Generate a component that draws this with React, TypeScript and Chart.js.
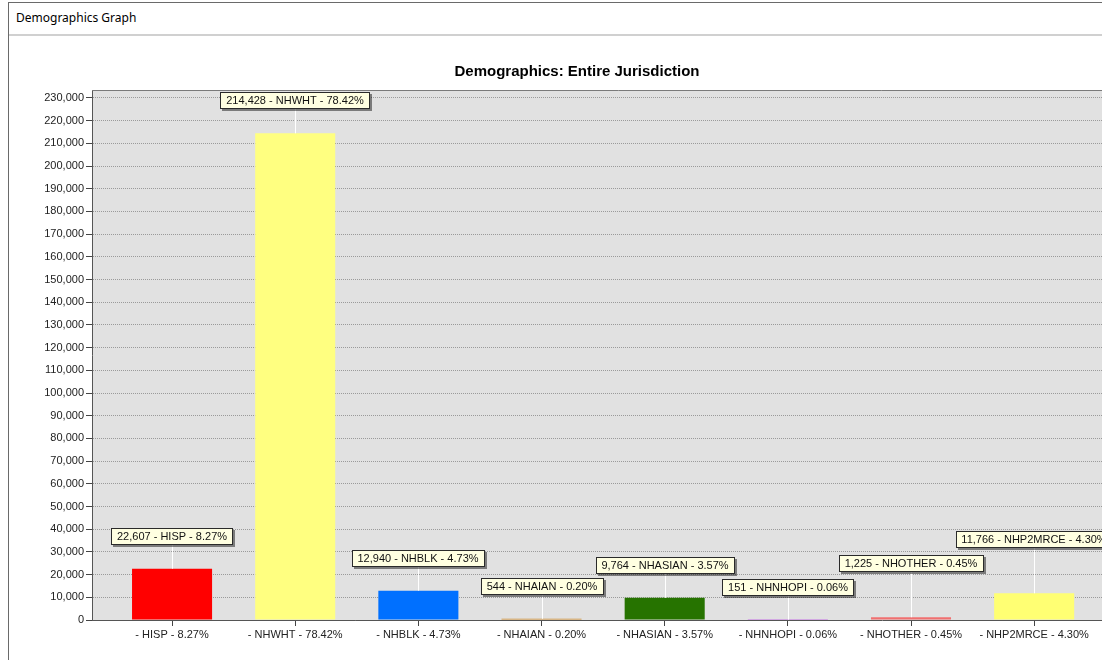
import React, { useEffect, useRef } from 'react';
import { Chart, registerables } from 'chart.js';

Chart.register(...registerables);

const windowTitle = 'Demographics Graph';
const chartTitle = 'Demographics: Entire Jurisdiction';
const categories = ['HISP', 'NHWHT', 'NHBLK', 'NHAIAN', 'NHASIAN', 'NHNHOPI', 'NHOTHER', 'NHP2MRCE'];
const populations = [22607, 214428, 12940, 544, 9764, 151, 1225, 11766];
const percentLabels = ['8.27%', '78.42%', '4.73%', '0.20%', '3.57%', '0.06%', '0.45%', '4.30%'];
const barColors = ['#ff0000', '#ffff80', '#0070ff', '#d08a2a', '#267300', '#a900e6', '#f07070', '#ffff73'];
const yTickStep = 10000;
const yAxisMax = 233500;
const xAxisMin = -0.65;
const xAxisMax = 7.9;

const FONT = '"Liberation Sans", Arial, sans-serif';

const fmt = (v: number) => Number(v).toLocaleString('en-US');

const plotFrame = {
  id: 'plotFrame',
  beforeDraw(chart: any) {
    const { ctx, chartArea: a } = chart;
    ctx.save();
    ctx.fillStyle = '#e1e1e1';
    ctx.fillRect(a.left, a.top, a.right - a.left, a.bottom - a.top);
    ctx.restore();
  },
  afterDraw(chart: any) {
    const { ctx, chartArea: a } = chart;
    ctx.save();
    ctx.strokeStyle = '#7a7a7a';
    ctx.lineWidth = 1;
    ctx.beginPath();
    ctx.moveTo(a.left, Math.round(a.top) + 0.5);
    ctx.lineTo(a.right, Math.round(a.top) + 0.5);
    ctx.stroke();
    ctx.restore();
  },
};

const calloutLabels = {
  id: 'calloutLabels',
  afterDatasetsDraw(chart: any) {
    const ctx = chart.ctx;
    const meta = chart.getDatasetMeta(0);
    ctx.save();
    ctx.font = `11px ${FONT}`;
    const boxes: any[] = [];
    meta.data.forEach((el: any, i: number) => {
      const text = `${fmt(populations[i])} - ${categories[i]} - ${percentLabels[i]}`;
      const w = Math.round(ctx.measureText(text).width) + 12;
      const h = 17;
      const cx = Math.round(el.x);
      const left = Math.round(cx - w / 2);
      let bottom = Math.round(el.y) - 24;
      let moved = true;
      let guard = 0;
      while (moved && guard < 20) {
        moved = false;
        guard++;
        for (const p of boxes) {
          if (left < p.right && left + w > p.left && bottom > p.top - 2 && bottom - h < p.bottom + 2) {
            bottom = p.top - 7;
            moved = true;
          }
        }
      }
      boxes.push({ left, right: left + w, top: bottom - h, bottom, cx, barTop: el.y, text, w, h });
    });
    ctx.strokeStyle = '#ffffff';
    ctx.lineWidth = 1;
    boxes.forEach((b) => {
      ctx.beginPath();
      ctx.moveTo(b.cx + 0.5, b.bottom);
      ctx.lineTo(b.cx + 0.5, b.barTop);
      ctx.stroke();
    });
    boxes.forEach((b) => {
      ctx.fillStyle = 'rgba(0,0,0,0.45)';
      ctx.fillRect(b.left + 2, b.top + 2, b.w, b.h);
      ctx.fillStyle = '#ffffe1';
      ctx.fillRect(b.left, b.top, b.w, b.h);
      ctx.strokeStyle = '#2a2a2a';
      ctx.strokeRect(b.left + 0.5, b.top + 0.5, b.w - 1, b.h - 1);
      ctx.fillStyle = '#111111';
      ctx.textAlign = 'center';
      ctx.textBaseline = 'middle';
      ctx.fillText(b.text, b.cx, b.top + b.h / 2 + 0.5);
    });
    ctx.restore();
  },
};

export default function App() {
  const canvasRef = useRef<HTMLCanvasElement | null>(null);

  useEffect(() => {
    if (!canvasRef.current) return;
    const chart = new Chart(canvasRef.current, {
      type: 'bar',
      data: {
        datasets: [
          {
            data: populations.map((v, i) => ({ x: i, y: v })),
            backgroundColor: barColors,
            borderWidth: 0,
            barPercentage: 0.65,
            categoryPercentage: 1,
          },
        ],
      },
      options: {
        animation: false,
        responsive: false,
        devicePixelRatio: 1,
        layout: { padding: { left: 0, right: 0, top: 0, bottom: 0 } },
        plugins: {
          legend: { display: false },
          tooltip: { enabled: false },
          title: {
            display: true,
            text: chartTitle,
            color: '#000000',
            font: { size: 15, weight: 'bold', family: FONT },
            padding: { top: 26, bottom: 9 },
          },
        },
        scales: {
          x: {
            type: 'linear',
            min: xAxisMin,
            max: xAxisMax,
            offset: false,
            bounds: 'data',
            afterBuildTicks: (s: any) => {
              s.ticks = categories.map((_, i) => ({ value: i }));
            },
            afterFit: (s: any) => {
              s.height = 40;
            },
            ticks: {
              autoSkip: false,
              maxRotation: 0,
              minRotation: 0,
              padding: 2,
              color: '#222222',
              font: { size: 11, family: FONT },
              callback: (v: any) => `- ${categories[v]} - ${percentLabels[v]}`,
            },
            grid: {
              offset: false,
              drawOnChartArea: false,
              drawTicks: true,
              tickLength: 6,
              color: '#444444',
              tickColor: '#444444',
            },
            border: { display: true, color: '#555555', z: 1 },
          },
          y: {
            min: 0,
            max: yAxisMax,
            bounds: 'data',
            afterBuildTicks: (s: any) => {
              const t: any[] = [];
              for (let v = 0; v <= yAxisMax; v += yTickStep) t.push({ value: v });
              s.ticks = t;
            },
            afterFit: (s: any) => {
              s.width = 83;
            },
            ticks: {
              padding: 2,
              color: '#222222',
              font: { size: 11, family: FONT },
              callback: (v: any) => fmt(v),
            },
            grid: { color: '#9a9a9a', tickLength: 6, tickColor: '#444444', drawTicks: true },
            border: { display: true, color: '#555555', dash: [1, 1] },
          },
        },
      },
      plugins: [plotFrame, calloutLabels],
    } as any);
    return () => chart.destroy();
  }, []);

  return (
    <div
      style={{
        position: 'fixed',
        left: 0,
        top: 0,
        width: 1102,
        height: 660,
        overflow: 'hidden',
        background: '#ffffff',
      }}
    >
      <div
        style={{
          position: 'absolute',
          left: 8,
          top: 2,
          width: 1200,
          height: 700,
          borderLeft: '1px solid #6a6a6a',
          borderTop: '1px solid #6a6a6a',
        }}
      />
      <div
        style={{
          position: 'absolute',
          left: 16,
          top: 10,
          font: '12px "Noto Sans", sans-serif',
          color: '#000',
          lineHeight: '16px',
          whiteSpace: 'nowrap',
        }}
      >
        {windowTitle}
      </div>
      <div style={{ position: 'absolute', left: 9, top: 34, width: 1200, height: 2, background: '#d0d0d0' }} />
      <canvas
        ref={canvasRef}
        width={1136}
        height={623}
        style={{ position: 'absolute', left: 9, top: 37, width: 1136, height: 623, display: 'block' }}
      />
    </div>
  );
}
